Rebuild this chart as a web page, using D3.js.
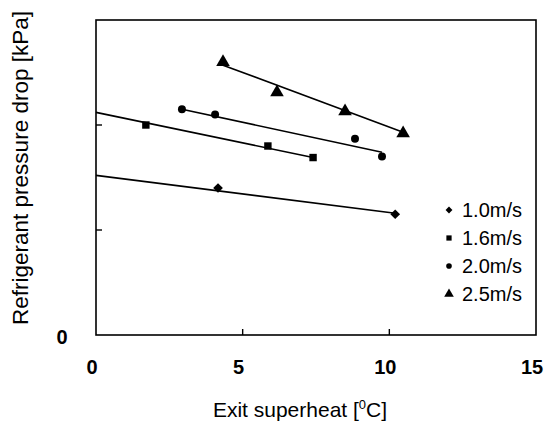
<!DOCTYPE html>
<html>
<head>
<meta charset="utf-8">
<script src="https://cdn.jsdelivr.net/npm/d3@7"></script>
<style>
  body { margin: 0; background: #fff; }
  text { font-family: "Liberation Sans", Arial, sans-serif; fill: #000; }
</style>
</head>
<body>
<svg width="547" height="427"></svg>
<script>
// series (y in arbitrary units, axis only labelled at 0)
var series = ["1.0m/s", "1.6m/s", "2.0m/s", "2.5m/s"];
var shapes = [d3.symbolDiamond2, d3.symbolSquare, d3.symbolCircle, d3.symbolTriangle];
var x10 = [4.16, 10.20],             y10 = [1.40, 1.15];
var x16 = [1.70, 5.86, 7.40],        y16 = [2.00, 1.80, 1.69];
var x20 = [2.93, 4.06, 8.83, 9.75],  y20 = [2.15, 2.10, 1.87, 1.70];
var x25 = [4.33, 6.17, 8.49, 10.47], y25 = [2.60, 2.31, 2.13, 1.92];
// trend lines [x0, y0, x1, y1]
var fits = [
  [0, 1.52, 10.20, 1.16],
  [0, 2.12, 7.40, 1.69],
  [2.93, 2.15, 9.75, 1.74],
  [4.33, 2.57, 10.47, 1.93]
];
var xTicks = [0, 5, 10, 15];
var yTicks = [0, 1, 2, 3];

var xs = [x10, x16, x20, x25], ys = [y10, y16, y20, y25];

var svg = d3.select("svg");
var pl = 96, pr = 536, pt = 20, pb = 335;
var x = d3.scaleLinear().domain([0, 15]).range([pl, pr]);
var y = d3.scaleLinear().domain([0, 3]).range([pb, pt]);

// frame
svg.append("rect")
  .attr("x", pl).attr("y", pt)
  .attr("width", pr - pl).attr("height", pb - pt)
  .attr("fill", "none").attr("stroke", "#000").attr("stroke-width", 1.6);

// inner ticks
svg.append("g").selectAll("line").data(xTicks.slice(1, 3)).enter().append("line")
  .attr("x1", d => x(d)).attr("x2", d => x(d))
  .attr("y1", pb).attr("y2", pb - 6)
  .attr("stroke", "#000").attr("stroke-width", 1.4);
svg.append("g").selectAll("line").data(yTicks.slice(1, 3)).enter().append("line")
  .attr("x1", pl).attr("x2", pl + 6)
  .attr("y1", d => y(d)).attr("y2", d => y(d))
  .attr("stroke", "#000").attr("stroke-width", 1.4);

// tick labels
svg.append("g").selectAll("text").data(xTicks).enter().append("text")
  .attr("x", d => x(d) - 4).attr("y", 374)
  .attr("text-anchor", "middle")
  .style("font-size", "20px").style("font-weight", "bold")
  .text(d => d);
svg.append("text")
  .attr("x", 62).attr("y", y(0) + 9)
  .attr("text-anchor", "middle")
  .style("font-size", "20px").style("font-weight", "bold")
  .text("0");

// axis titles
var xt = svg.append("text")
  .attr("x", 300).attr("y", 417)
  .attr("text-anchor", "middle")
  .style("font-size", "21px");
xt.append("tspan").text("Exit superheat [");
xt.append("tspan").attr("dy", -8).style("font-size", "13px").text("0");
xt.append("tspan").attr("dy", 8).text("C]");

svg.append("text")
  .attr("transform", "translate(28,168) rotate(-90)")
  .attr("text-anchor", "middle")
  .style("font-size", "22.5px")
  .text("Refrigerant pressure drop [kPa]");

// trend lines
svg.append("g").selectAll("line").data(fits).enter().append("line")
  .attr("x1", d => x(d[0])).attr("y1", d => y(d[1]))
  .attr("x2", d => x(d[2])).attr("y2", d => y(d[3]))
  .attr("stroke", "#000").attr("stroke-width", 1.6);

// markers
var sizes = [60, 55, 50, 80];
series.forEach(function (s, i) {
  svg.append("g").selectAll("path").data(d3.range(xs[i].length)).enter().append("path")
    .attr("transform", j => "translate(" + x(xs[i][j]) + "," + y(ys[i][j]) + ")")
    .attr("d", d3.symbol().type(shapes[i]).size(sizes[i]))
    .attr("fill", "#000");
});

// legend
var lg = svg.append("g").selectAll("g").data(series).enter().append("g")
  .attr("transform", (d, i) => "translate(449," + (210 + i * 28) + ")");
lg.append("path")
  .attr("d", (d, i) => d3.symbol().type(shapes[i]).size(sizes[i] * 0.5)())
  .attr("fill", "#000");
lg.append("text")
  .attr("x", 13).attr("y", 7)
  .style("font-size", "20px")
  .text(d => d);
</script>
</body>
</html>
